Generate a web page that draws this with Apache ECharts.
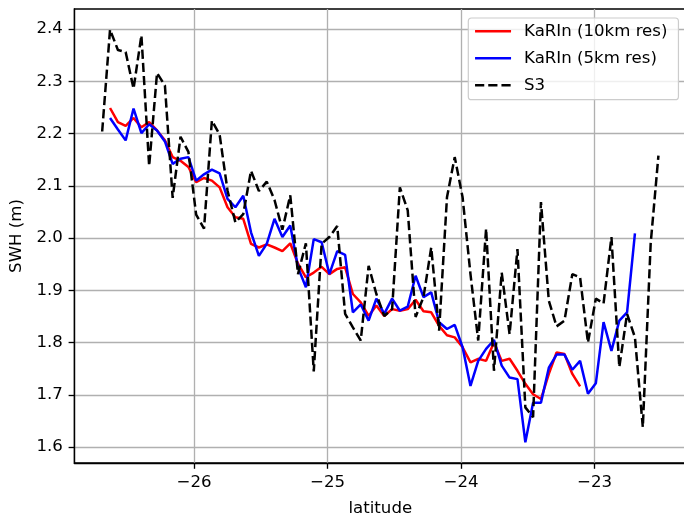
<!DOCTYPE html>
<html>
<head>
<meta charset="utf-8">
<script src="https://cdn.jsdelivr.net/npm/echarts@6/dist/echarts.min.js"></script>
<style>
  html, body { margin: 0; padding: 0; background: #ffffff; }
  #chart { width: 684px; height: 517px; }
</style>
</head>
<body>
<div id="chart"></div>
<script>
// Along-track latitude grid shared by all three products (degrees)
const latitude = [
  -26.688, -26.629, -26.570, -26.512, -26.453, -26.394, -26.336, -26.277, -26.218, -26.160,
  -26.101, -26.042, -25.984, -25.925, -25.866, -25.808, -25.749, -25.690, -25.631, -25.573,
  -25.514, -25.455, -25.397, -25.338, -25.279, -25.221, -25.162, -25.103, -25.044, -24.986,
  -24.927, -24.868, -24.810, -24.751, -24.692, -24.634, -24.575, -24.516, -24.458, -24.399,
  -24.340, -24.281, -24.223, -24.164, -24.105, -24.047, -23.988, -23.929, -23.871, -23.812,
  -23.753, -23.695, -23.636, -23.577, -23.518, -23.460, -23.401, -23.342, -23.284, -23.225,
  -23.166, -23.108, -23.049, -22.990, -22.932, -22.873, -22.814, -22.756, -22.697, -22.638,
  -22.579, -22.521
];

// KaRIn SWH at 10 km resolution (m), starting at latitude[1]
const karin10km = [
  2.249, 2.222, 2.215, 2.230, 2.212, 2.222, 2.206, 2.187, 2.155, 2.148,
  2.136, 2.107, 2.115, 2.110, 2.097, 2.059, 2.040, 2.037, 1.989, 1.982,
  1.988, 1.982, 1.975, 1.990, 1.951, 1.925, 1.934, 1.945, 1.931, 1.941,
  1.944, 1.893, 1.877, 1.851, 1.871, 1.851, 1.864, 1.861, 1.864, 1.882,
  1.860, 1.858, 1.832, 1.814, 1.810, 1.791, 1.762, 1.769, 1.765, 1.800,
  1.765, 1.769, 1.746, 1.721, 1.701, 1.692, 1.740, 1.781, 1.778, 1.740,
  1.716
];

// KaRIn SWH at 5 km resolution (m), starting at latitude[1]
const karin5km = [
  2.230, 2.208, 2.187, 2.248, 2.201, 2.218, 2.206, 2.185, 2.142, 2.152,
  2.155, 2.110, 2.122, 2.131, 2.124, 2.075, 2.059, 2.081, 2.011, 1.966,
  1.989, 2.037, 2.002, 2.024, 1.944, 1.906, 1.998, 1.992, 1.931, 1.975,
  1.968, 1.858, 1.873, 1.842, 1.884, 1.855, 1.884, 1.861, 1.869, 1.928,
  1.887, 1.896, 1.839, 1.826, 1.834, 1.791, 1.717, 1.765, 1.788, 1.805,
  1.756, 1.733, 1.730, 1.609, 1.685, 1.685, 1.752, 1.777, 1.777, 1.748,
  1.765, 1.702, 1.722, 1.839, 1.784, 1.842, 1.858, 2.009
];

// Sentinel-3 altimeter SWH (m), starting at latitude[0]
const s3 = [
  2.204, 2.399, 2.360, 2.356, 2.286, 2.388, 2.138, 2.316, 2.292, 2.077,
  2.194, 2.165, 2.045, 2.018, 2.225, 2.198, 2.091, 2.030, 2.046, 2.129,
  2.090, 2.108, 2.073, 2.016, 2.082, 1.931, 1.990, 1.745, 1.989, 2.002,
  2.023, 1.855, 1.829, 1.804, 1.947, 1.893, 1.851, 1.864, 2.097, 2.053,
  1.849, 1.887, 1.982, 1.823, 2.078, 2.155, 2.078, 1.931, 1.804, 2.018,
  1.746, 1.934, 1.816, 1.979, 1.676, 1.657, 2.069, 1.880, 1.831, 1.842,
  1.931, 1.925, 1.800, 1.884, 1.875, 2.002, 1.753, 1.855, 1.810, 1.638,
  1.990, 2.158
];

const xTicks = [-26, -25, -24, -23];
const yTicks = [1.6, 1.7, 1.8, 1.9, 2.0, 2.1, 2.2, 2.3, 2.4];
const seriesNames = ['KaRIn (10km res)', 'KaRIn (5km res)', 'S3'];

const FONT = 'DejaVu Sans';
const FS = 16.6;

const pairs = (vals, offset) => vals.map((v, i) => [latitude[i + offset], v]);

const chart = echarts.init(document.getElementById('chart'), null, { renderer: 'canvas' });

const axisCommon = {
  axisLine: { show: true, onZero: false, lineStyle: { color: '#000', width: 1.33 } },
  axisTick: { show: true, inside: false, length: 5.8, lineStyle: { color: '#000', width: 1.33 } },
  splitLine: { show: true, lineStyle: { color: '#b0b0b0', width: 1.33 } },
  nameTextStyle: { fontFamily: FONT, fontSize: FS, color: '#000' }
};

chart.setOption({
  animation: false,
  backgroundColor: '#ffffff',
  grid: {
    left: 74.4, top: 9, width: 611.8, height: 454,
    containLabel: false, outerBoundsMode: 'none',
    show: true, borderColor: '#000', borderWidth: 1.33, backgroundColor: 'transparent'
  },
  legend: {
    show: true,
    data: seriesNames,
    orient: 'vertical',
    left: 468.3, top: 18,
    padding: [4.2, 11, 5.5, 5.5],
    itemWidth: 36, itemHeight: 18, itemGap: 9,
    itemStyle: { opacity: 0 },
    lineStyle: { opacity: 1, width: 2.5 },
    backgroundColor: 'rgba(255,255,255,0.8)',
    borderColor: '#cccccc', borderWidth: 1.2, borderRadius: 3.3,
    textStyle: { fontFamily: FONT, fontSize: FS, color: '#000', padding: [0, 0, 0, 8], lineHeight: 18 }
  },
  xAxis: Object.assign({}, axisCommon, {
    type: 'value',
    min: -26.896, max: -22.313,
    name: 'latitude', nameLocation: 'middle', nameGap: 37,
    axisTick: Object.assign({}, axisCommon.axisTick, { customValues: xTicks }),
    axisLabel: {
      customValues: xTicks, margin: 11.6,
      fontFamily: FONT, fontSize: FS, color: '#000',
      formatter: v => String(v).replace('-', '\u2212')
    }
  }),
  yAxis: Object.assign({}, axisCommon, {
    type: 'value',
    min: 1.5695, max: 2.4385,
    name: 'SWH (m)', nameLocation: 'middle', nameGap: 47, nameRotate: 90,
    axisTick: Object.assign({}, axisCommon.axisTick, { customValues: yTicks }),
    axisLabel: {
      customValues: yTicks, margin: 11.6,
      fontFamily: FONT, fontSize: FS, color: '#000',
      formatter: v => Number(v).toFixed(1)
    }
  }),
  series: [
    {
      name: seriesNames[0], type: 'line', data: pairs(karin10km, 1),
      symbol: 'none', showSymbol: false, clip: true,
      itemStyle: { color: '#ff0000' },
      lineStyle: { color: '#ff0000', width: 2.5 }
    },
    {
      name: seriesNames[1], type: 'line', data: pairs(karin5km, 1),
      symbol: 'none', showSymbol: false, clip: true,
      itemStyle: { color: '#0000ff' },
      lineStyle: { color: '#0000ff', width: 2.5 }
    },
    {
      name: seriesNames[2], type: 'line', data: pairs(s3, 0),
      symbol: 'none', showSymbol: false, clip: true,
      itemStyle: { color: '#000000' },
      lineStyle: { color: '#000000', width: 2.5, type: [9.2, 4] }
    }
  ]
});
</script>
</body>
</html>
